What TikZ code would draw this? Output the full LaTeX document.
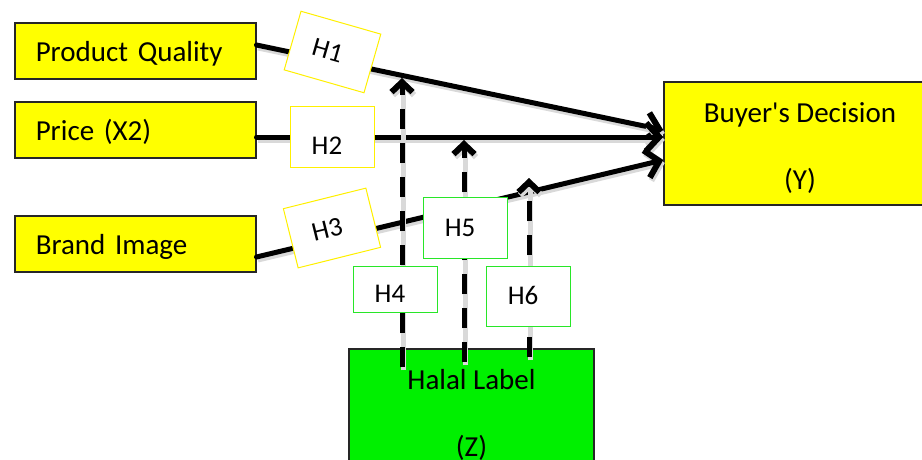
\documentclass[tikz,border=0pt]{standalone}
\usepackage{fontspec}
\setmainfont{Carlito}[Ligatures=TeXOff]
\usetikzlibrary{arrows.meta}
\definecolor{varyellow}{RGB}{255,255,0}
\definecolor{modgreen}{RGB}{0,240,0}
\definecolor{hypgreen}{RGB}{40,230,40}
\definecolor{hypyellow}{RGB}{255,240,0}
\begin{document}
\begin{tikzpicture}[x=1pt,y=-1pt,
  varbox/.style={draw=black!85, line width=1.5pt, fill=varyellow,
    minimum width=241pt, minimum height=56pt, text width=199pt,
    text height=26pt, text depth=5pt,
    inner xsep=21pt, inner ysep=0pt, align=left, anchor=west,
    font=\fontsize{29}{35}\selectfont},
  bigbox/.style={draw=black!85, line width=1.5pt, minimum height=123pt,
    align=center, font=\fontsize{29}{35}\selectfont},
  hyp/.style={draw=hypyellow, line width=1pt, fill=white, inner sep=0pt,
    text height=22pt, text depth=4.6pt,
    font=\fontsize{27}{32}\selectfont},
  hypm/.style={draw=hypgreen, line width=1pt, fill=white, inner sep=0pt,
    minimum width=84pt, text height=22pt, text depth=4.6pt,
    font=\fontsize{27}{32}\selectfont},
  shadowed/.style={preaction={draw=black!15, line width=5pt,
    transform canvas={shift={(1.5pt,-3pt)}}}},
  link/.style={line width=5pt, line cap=round,
    -{Straight Barb[length=13pt,width=28pt,line width=0pt 1.2]}, shadowed},
  dlink/.style={line width=5pt, dash pattern=on 20pt off 14pt,
    -{Straight Barb[length=10pt,width=21pt,line width=0pt 1.2]}, shadowed}
]
\useasboundingbox (0,0) rectangle (922,460);
\clip (0,0) rectangle (922,460);

% independent variables
\node[varbox] (pq) at (14,51) {Product Quality};
\node[varbox] (pr) at (14,130) {Price (X2)};
\node[varbox] (bi) at (14,244) {Brand Image};

% dependent variable and moderator
\node[bigbox, fill=varyellow, minimum width=272pt] (y) at (800,143.5)
  {\rule{0pt}{30pt}Buyer's Decision\\[32pt](Y)};
\node[bigbox, fill=modgreen, minimum width=245pt] (z) at (471.5,410.5)
  {\rule{0pt}{30pt}Halal Label\\[32pt](Z)};

% ends of the moderating arrows
\coordinate (t1) at (402,78);
\coordinate (t2) at (464,140);
\coordinate (t3) at (529,178);

% direct effects
\draw[link] ([yshift=6pt]pq.east) -- ([yshift=13.5pt]y.west);
\draw[link] ([yshift=-7pt]pr.east) -- ([yshift=6.5pt]y.west);
\draw[link] ([yshift=-13pt]bi.east) -- ([yshift=-16.5pt]y.west);

% moderating effects
\draw[dlink] ([xshift=-69.5pt,yshift=-19pt]z.north) -- (t1);
\draw[dlink] ([xshift=-7.5pt,yshift=-14pt]z.north) -- (t2);
\draw[dlink] ([xshift=57.5pt,yshift=-9pt]z.north) -- (t3);

% hypothesis labels (text sits a little left of the box centre)
\node[hyp, minimum width=83pt, minimum height=61pt, rotate=-16] (h1) at (332.5,52) {H1\hspace*{10pt}};
\node[hyp, minimum width=84pt, minimum height=60pt, text height=40pt] (h2) at (332,137) {H2\hspace*{10pt}};
\node[hyp, minimum width=85pt, minimum height=61pt, rotate=14] (h3) at (332,228) {H3\hspace*{10pt}};
\node[hypm, minimum height=46pt, text height=32pt] (h4) at (395,289) {H4\hspace*{10pt}};
\node[hypm, minimum height=61pt] (h5) at (465,227.5) {H5\hspace*{10pt}};
\node[hypm, minimum height=60pt] (h6) at (528,296) {H6\hspace*{10pt}};
\end{tikzpicture}
\end{document}
